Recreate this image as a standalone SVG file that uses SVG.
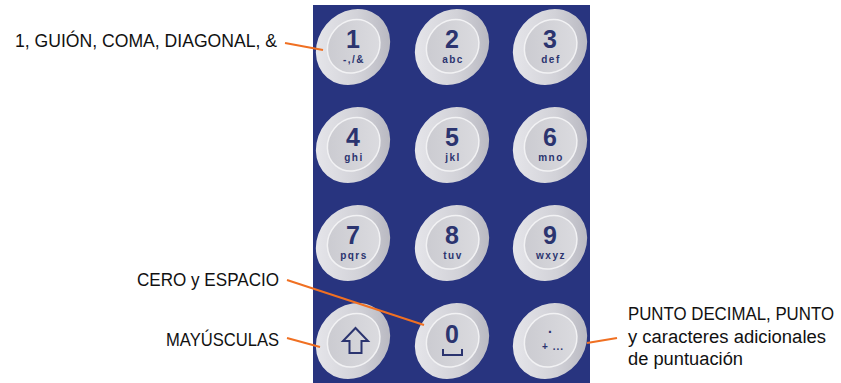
<svg xmlns="http://www.w3.org/2000/svg" width="841" height="383" viewBox="0 0 841 383">
<defs>
<linearGradient id="ring" x1="0" y1="0" x2="1" y2="1">
<stop offset="0" stop-color="#ececf0"/>
<stop offset="0.55" stop-color="#d2d2d8"/>
<stop offset="1" stop-color="#adadb7"/>
</linearGradient>
<linearGradient id="face" x1="0" y1="0" x2="1" y2="1">
<stop offset="0" stop-color="#c8c8ce"/>
<stop offset="1" stop-color="#dedee2"/>
</linearGradient>
<g id="keycap">
<ellipse cx="0" cy="0" rx="40" ry="35" transform="rotate(-50)" fill="url(#ring)"/>
<ellipse cx="1" cy="0" rx="28" ry="25" transform="rotate(-50)" fill="url(#face)" stroke="#f2f2f4" stroke-width="1.5"/>
</g>
</defs>
<style>
.lbl{font-family:"Liberation Sans",Arial,sans-serif;font-size:18.5px;fill:#111}
.lbr{font-family:"Liberation Sans",Arial,sans-serif;font-size:17px;fill:#111}
.dig{font-family:"Liberation Sans",Arial,sans-serif;font-size:25px;font-weight:bold;fill:#2b346f;text-anchor:middle}
.sub{font-family:"Liberation Sans",Arial,sans-serif;font-size:10px;font-weight:bold;fill:#2b346f;text-anchor:middle;letter-spacing:1.5px}
.con{stroke:#f07022;stroke-width:2;fill:none}
.sym{stroke:#2b346f;stroke-width:2;fill:none}
</style>
<rect id="panel" x="313" y="5" width="277" height="378" fill="#28347f"/>
<g id="key1"><use href="#keycap" x="353" y="47"/><text class="dig" x="353" y="48">1</text><text class="sub" x="354" y="63">-,/&amp;</text></g>
<g id="key2"><use href="#keycap" x="452" y="47"/><text class="dig" x="452" y="48">2</text><text class="sub" x="453" y="63">abc</text></g>
<g id="key3"><use href="#keycap" x="550" y="47"/><text class="dig" x="550" y="48">3</text><text class="sub" x="551" y="63">def</text></g>
<g id="key4"><use href="#keycap" x="353" y="145"/><text class="dig" x="353" y="146">4</text><text class="sub" x="354" y="161">ghi</text></g>
<g id="key5"><use href="#keycap" x="452" y="145"/><text class="dig" x="452" y="146">5</text><text class="sub" x="453" y="161">jkl</text></g>
<g id="key6"><use href="#keycap" x="550" y="145"/><text class="dig" x="550" y="146">6</text><text class="sub" x="551" y="161">mno</text></g>
<g id="key7"><use href="#keycap" x="353" y="243"/><text class="dig" x="353" y="244">7</text><text class="sub" x="354" y="259">pqrs</text></g>
<g id="key8"><use href="#keycap" x="452" y="243"/><text class="dig" x="452" y="244">8</text><text class="sub" x="453" y="259">tuv</text></g>
<g id="key9"><use href="#keycap" x="550" y="243"/><text class="dig" x="550" y="244">9</text><text class="sub" x="551" y="259">wxyz</text></g>
<g id="keyShift"><use href="#keycap" x="353" y="341"/><path class="sym" d="M355.5 328 L343 341 L349.5 341 L349.5 353 L361.5 353 L361.5 341 L368 341 Z"/></g>
<g id="key0"><use href="#keycap" x="452" y="341"/><text class="dig" x="452" y="343">0</text><path class="sym" d="M443 349 V355 H462 V349"/></g>
<g id="keyDot"><use href="#keycap" x="550" y="341"/><text class="dig" x="550" y="333" style="font-size:14px">.</text><text class="sub" x="553" y="350" style="letter-spacing:1px">+ ...</text></g>
<g id="connectors">
<line class="con" x1="285" y1="43" x2="323" y2="50"/>
<line class="con" x1="287" y1="280" x2="424" y2="325"/>
<line class="con" x1="287" y1="338" x2="320" y2="347"/>
<line class="con" x1="587" y1="343" x2="617" y2="338"/>
</g>
<g id="labels">
<text class="lbl" x="15" y="47" textLength="262" lengthAdjust="spacingAndGlyphs">1, GUIÓN, COMA, DIAGONAL, &amp;</text>
<text class="lbl" x="137" y="286" textLength="142" lengthAdjust="spacingAndGlyphs">CERO y ESPACIO</text>
<text class="lbl" x="166" y="346" textLength="113" lengthAdjust="spacingAndGlyphs">MAYÚSCULAS</text>
<g transform="scale(1,1.12)">
<text class="lbr" x="628" y="285.7" textLength="206" lengthAdjust="spacingAndGlyphs">PUNTO DECIMAL, PUNTO</text>
<text class="lbr" x="628" y="306.3" textLength="198" lengthAdjust="spacingAndGlyphs">y caracteres adicionales</text>
<text class="lbr" x="628" y="325.9" textLength="115" lengthAdjust="spacingAndGlyphs">de puntuación</text>
</g>
</g>
</svg>
